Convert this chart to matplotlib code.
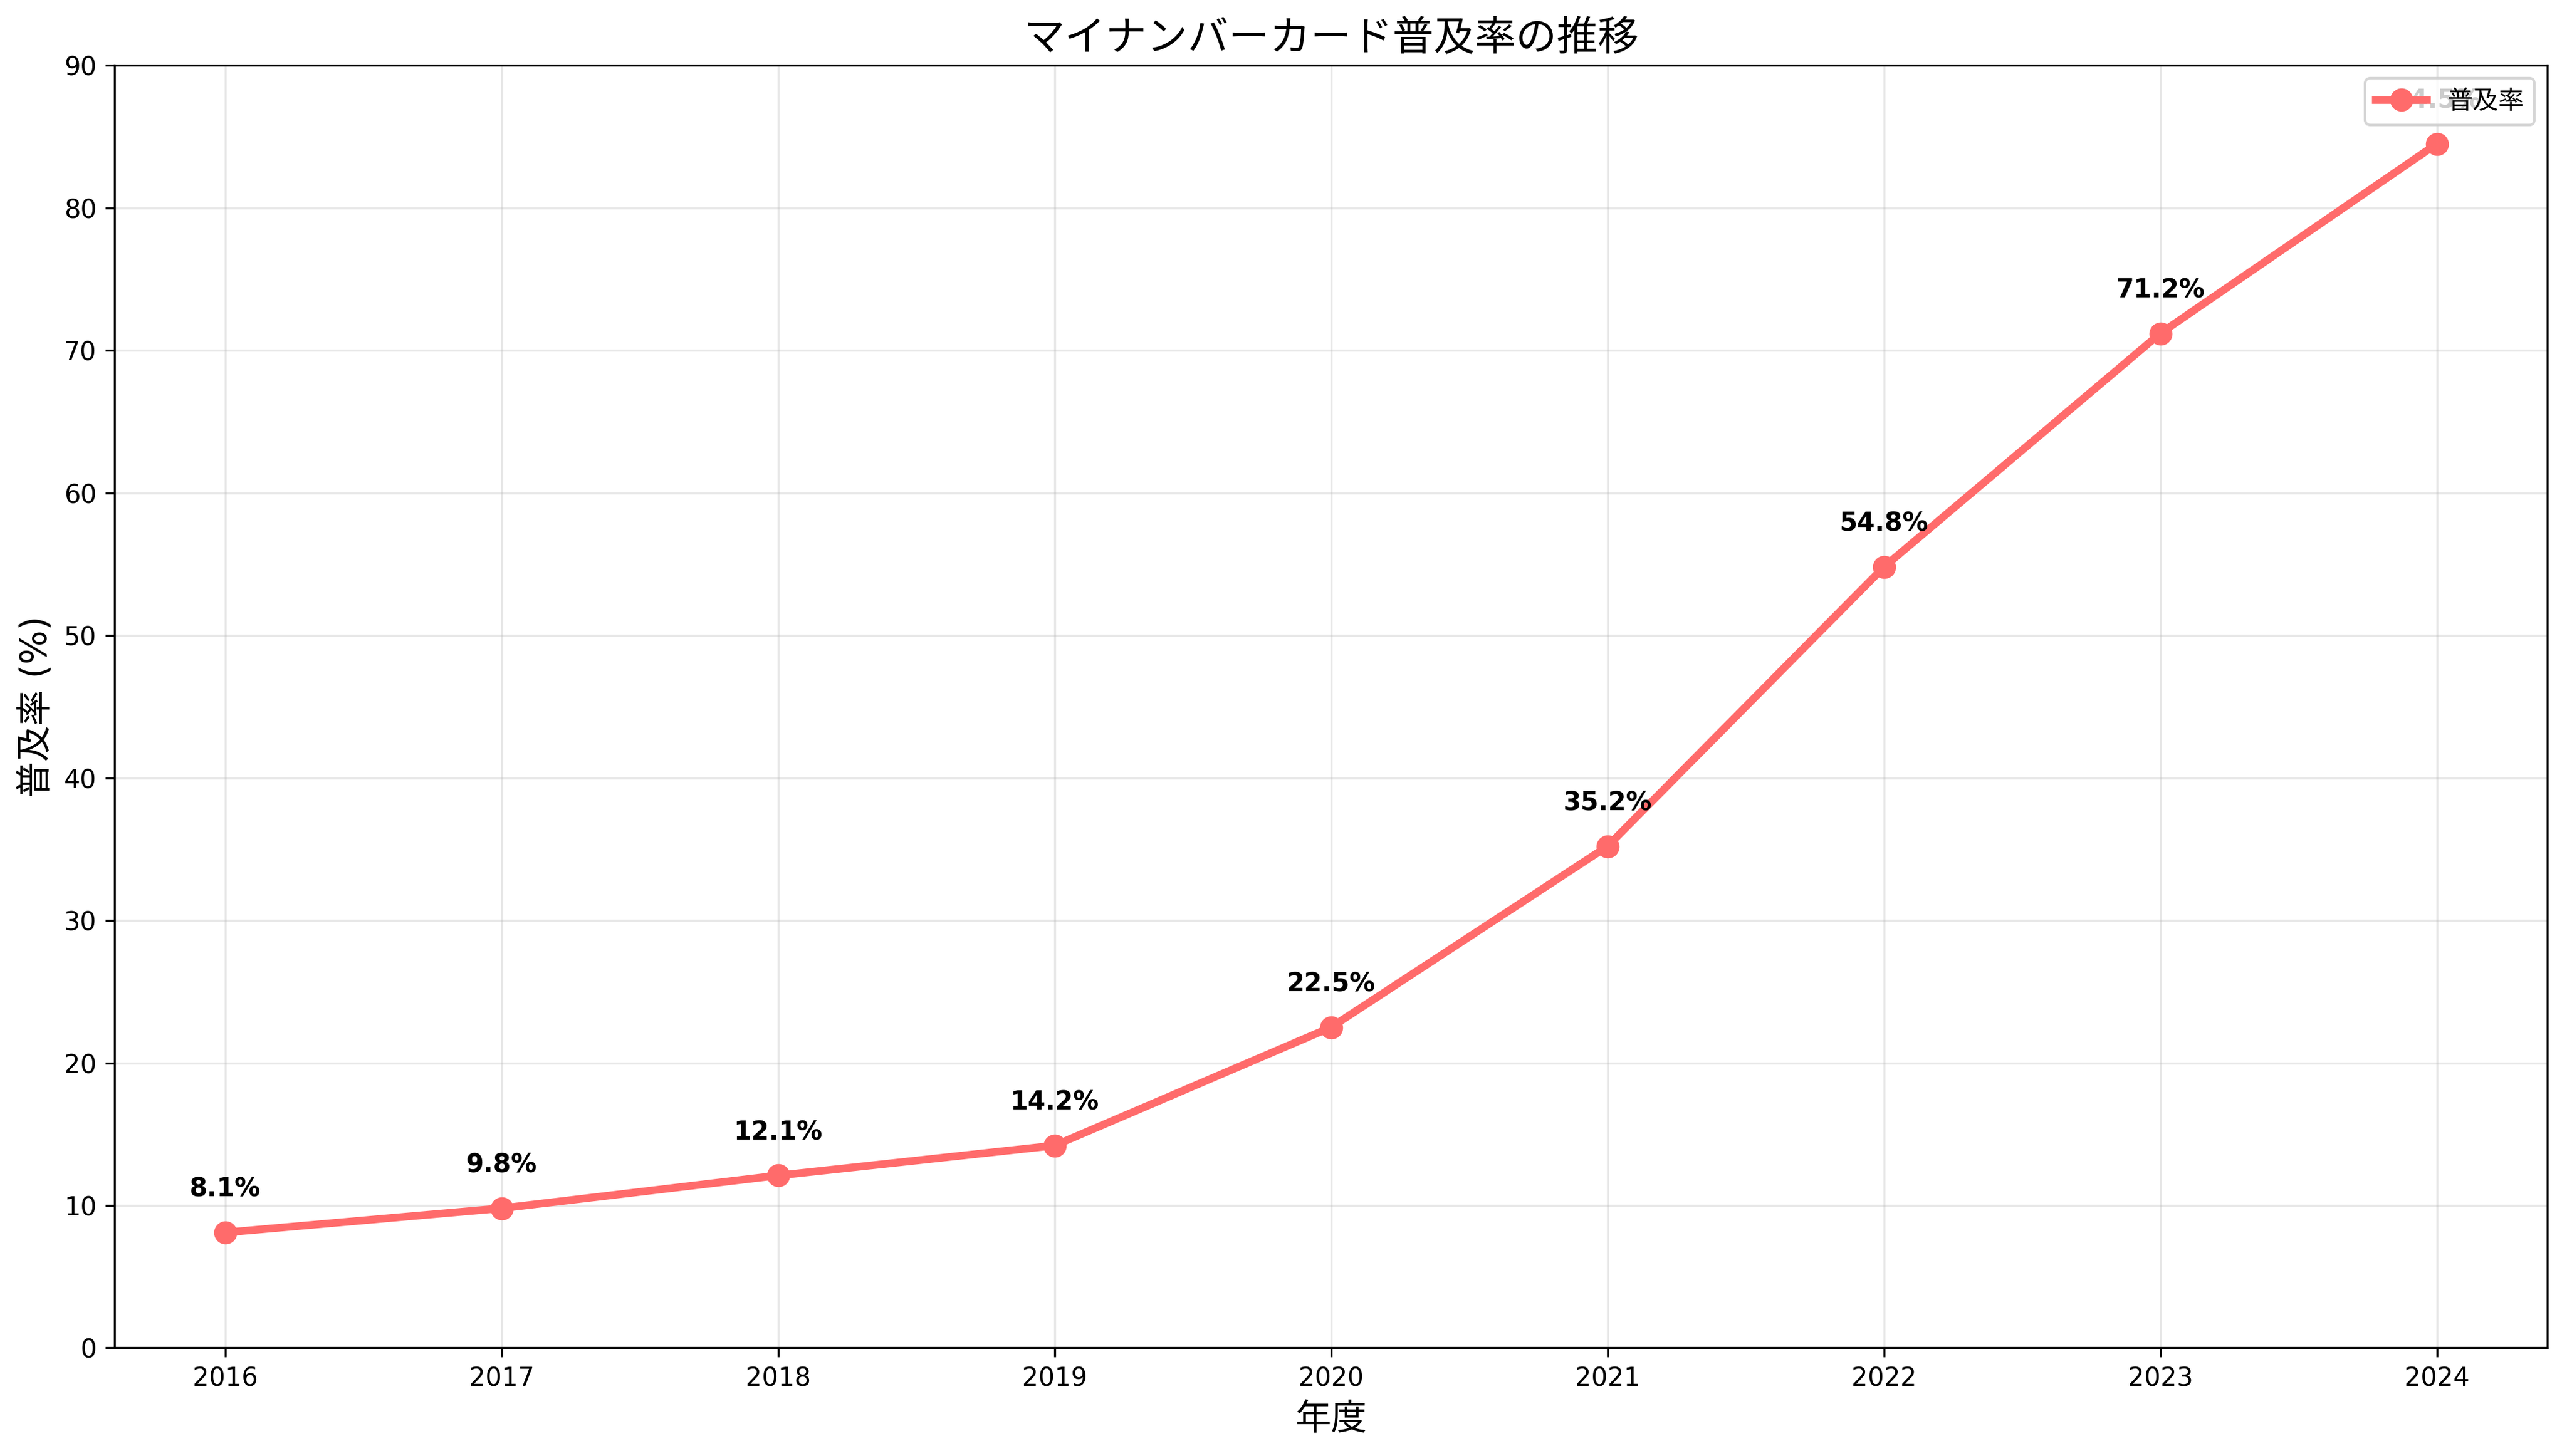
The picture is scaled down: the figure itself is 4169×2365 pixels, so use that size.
import matplotlib
matplotlib.use("Agg")
import matplotlib.pyplot as plt

plt.rcParams['font.family'] = ['DejaVu Sans', 'Noto Sans CJK JP']

years = [2016, 2017, 2018, 2019, 2020, 2021, 2022, 2023, 2024]
rates = [8.1, 9.8, 12.1, 14.2, 22.5, 35.2, 54.8, 71.2, 84.5]

fig, ax = plt.subplots(figsize=(4169/300, 2365/300), dpi=300)
fig.subplots_adjust(left=70/1568, right=1556/1568, top=1-40/889, bottom=1-823/889)
ax.plot(years, rates, color='#FF6B6B', linewidth=3, marker='o', markersize=8, label='普及率')
for x, y in zip(years, rates):
    ax.annotate(f'{y}%', (x, y), textcoords='offset points', xytext=(0, 14),
                ha='center', fontsize=10, fontweight='bold')
ax.set_title('マイナンバーカード普及率の推移', fontsize=16)
ax.set_xlabel('年度', fontsize=14)
ax.set_ylabel('普及率 (%)', fontsize=14)
ax.set_ylim(0, 90)
ax.set_xticks(years)
ax.grid(True, alpha=0.3)
ax.legend(loc='upper right')
fig.savefig('out.png', dpi=300)
